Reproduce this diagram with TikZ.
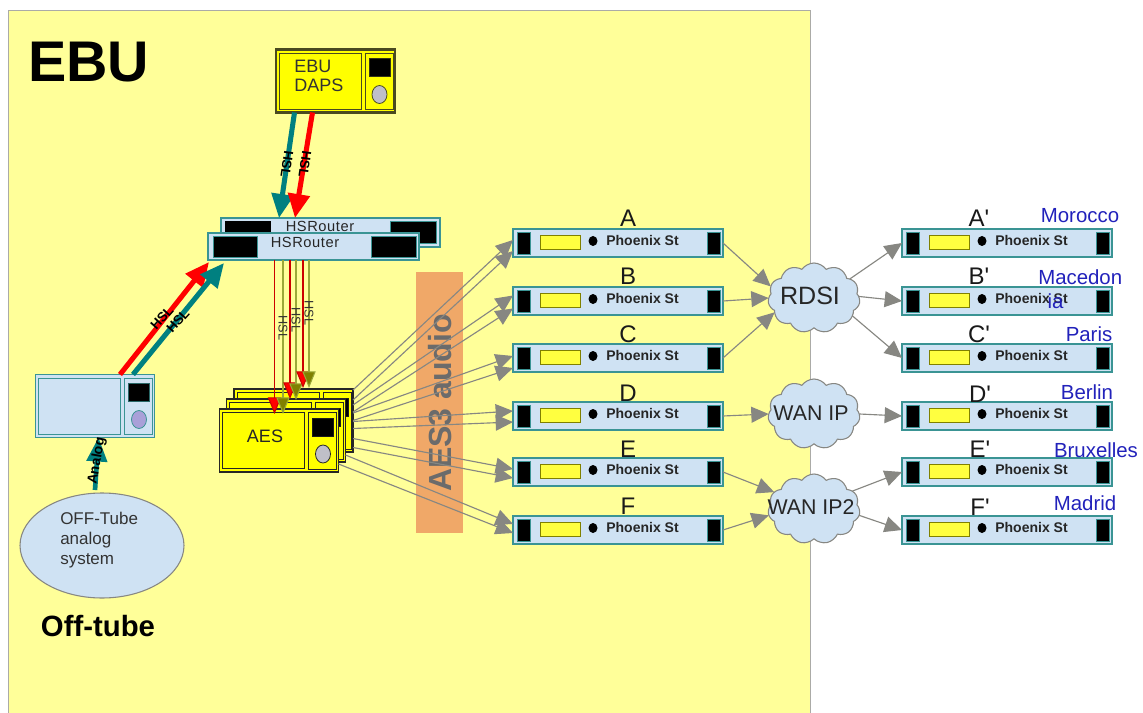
\documentclass[tikz,border=0pt]{standalone}
\usepackage{fontspec}
\setmainfont{Liberation Sans}
\newfontfamily\plainf{Liberation Sans}
\usetikzlibrary{arrows.meta,shapes.geometric,shapes.symbols}
\definecolor{panelY}{HTML}{FFFF99}
\definecolor{lblue}{HTML}{CFE2F3}
\definecolor{tealc}{HTML}{008080}
\definecolor{boxedge}{HTML}{3A9494}
\definecolor{devY}{HTML}{FFFF00}
\definecolor{blueT}{HTML}{2222BB}
\definecolor{barC}{HTML}{F0A868}
\definecolor{greyA}{HTML}{878782}
\definecolor{olive}{HTML}{808000}
\definecolor{olivel}{HTML}{9AA838}
\definecolor{dapsedge}{HTML}{4A4A20}
\definecolor{aesedge}{HTML}{262626}
\definecolor{knobg}{HTML}{BFBFC8}
\definecolor{knobv}{HTML}{A9A0D8}
\tikzset{
  pxbox/.style 2 args={rectangle,inner sep=0pt,outer sep=0pt,anchor=north west,minimum width=#1*0.75pt,minimum height=#2*0.75pt},
  phoenixbox/.style={pxbox={210}{28},draw=boxedge,line width=0.8pt,fill=lblue},
  garrow/.style={draw=greyA,line width=0.85pt,-{Triangle[length=13pt,width=12pt,fill=greyA]}},
  fatarrow/.style={line width=3.8pt,-{Triangle[length=18pt,width=16pt]}},
  redthin/.style={line width=0.8pt,draw=red!80!black,-{Triangle[length=12.5pt,width=10pt,fill=red]}},
  olivethin/.style={line width=0.8pt,draw=olivel,-{Triangle[length=12.5pt,width=10pt,fill=olive]}},
  cloudnode/.style={cloud,cloud puffs=11,cloud puff arc=110,aspect=1.3,draw=greyA,line width=0.8pt,fill=lblue,inner sep=0pt,outer sep=0pt,minimum width=92*0.75pt,minimum height=70*0.75pt},
  letterlab/.style={font=\plainf\fontsize{18pt}{20pt}\selectfont,inner sep=0pt,text=black!90},
  citylab/.style={font=\fontsize{15.3pt}{18pt}\selectfont,inner sep=0pt,text=blueT},
  hslfat/.style={font=\fontsize{10pt}{11pt}\selectfont\bfseries,inner sep=0pt,text=black},
  hslthin/.style={font=\fontsize{9.5pt}{10pt}\selectfont,inner sep=0pt,text=black!80},
  routerlab/.style={font=\fontsize{11pt}{12pt}\selectfont\addfontfeature{LetterSpace=4},inner sep=0pt,text=black!85},
  cloudlab/.style={inner sep=0pt,text=black!85}
}
\newcommand{\phoenix}[3]{%
  \node[phoenixbox] (#1) at (#2,#3) {};
  \begin{scope}[shift={(#2,#3)}]
    \fill[black,draw=boxedge,line width=0.4pt] (4,3) rectangle (17,25);
    \fill[black,draw=boxedge,line width=0.4pt] (194,3) rectangle (207,25);
    \filldraw[fill=devY!75!white,draw=olive,line width=0.5pt] (27,6) rectangle (67,20);
    \fill[black] (80,12) ellipse [x radius=4.5,y radius=5];
    \node[font=\fontsize{10.5pt}{12pt}\selectfont\bfseries,inner sep=0pt,text=black!85] (#1t) at (129.5,11) {Phoenix St};
  \end{scope}}
\newcommand{\device}[6]{% name x y fill stroke knob
  \node[pxbox={119}{63},draw=#5,line width=0.8pt,fill=#4] (#1) at (#2,#3) {};
  \begin{scope}[shift={(#2,#3)}]
    \draw[#5,line width=0.7pt,fill=#4] (3,3.5) rectangle (85,59.5);
    \draw[#5,line width=0.7pt,fill=#4] (89,3.5) rectangle (117,60);
    \filldraw[fill=black,draw=#5!70!black,line width=0.5pt] (93,9) rectangle (114,27);
    \filldraw[fill=#6,draw=#5,line width=0.6pt] (103.5,45) ellipse [x radius=7.5,y radius=9];
  \end{scope}}
\newcommand{\aesline}[4]{\draw[garrow] ([yshift=-#2*0.75pt]#1.east) -- ([yshift=-#4*0.75pt]#3.west);}
\begin{document}
\begin{tikzpicture}[x=0.75pt,y=-0.75pt]
\useasboundingbox (0,0) rectangle (1143,713);
\fill[white] (0,0) rectangle (1143,713);
\filldraw[fill=panelY,draw=greyA!70,line width=0.6pt] (8,10) rectangle (810,713);
\node[anchor=west,inner sep=0pt,font=\fontsize{43pt}{46pt}\selectfont\bfseries] (ebu) at (28,62) {EBU};

% AES3 bar
\node[pxbox={47}{261},fill=barC] (bar) at (416,272) {};
\node[rotate=90,inner sep=0pt,font=\fontsize{24pt}{26pt}\selectfont\bfseries,text=black!58] (bart) at (440,403) {AES3 audio};

% Devices
\device{daps}{276}{49.5}{devY}{dapsedge}{knobg}
\draw[dapsedge,line width=1.6pt] (daps.south west) rectangle (daps.north east);
\node[anchor=north west,align=left,inner sep=0pt,font=\fontsize{13.5pt}{14.5pt}\selectfont,text=black!80] (dapst) at (294,60) {EBU\\DAPS};

\device{aesc}{234}{389}{devY}{aesedge}{knobg}
\device{aesb}{226.5}{399}{devY}{aesedge}{knobg}
\device{aesa}{219.5}{409}{devY}{aesedge}{knobg}
\node[inner sep=0pt,font=\fontsize{13.5pt}{15pt}\selectfont,text=black!85] (aest) at (265,436) {AES};

\device{off}{35.5}{374.5}{lblue}{boxedge}{knobv}

% Routers
\node[pxbox={219}{29},draw=boxedge,line width=0.8pt,fill=lblue] (rb) at (221,218) {};
\fill[black] (225,221) rectangle (271,247);
\fill[black,draw=boxedge,line width=0.4pt] (390,221) rectangle (436,243);
\node[routerlab] (rbt) at (320,226) {HSRouter};
\node[pxbox={211}{27},draw=boxedge,line width=0.8pt,fill=lblue] (rf) at (208,233) {};
\fill[black,draw=boxedge,line width=0.4pt] (213,236) rectangle (257,257);
\fill[black,draw=boxedge,line width=0.4pt] (371,236) rectangle (416,257);
\node[routerlab] (rft) at (305,242) {HSRouter};

% Phoenix boxes
\phoenix{A}{513}{229}
\phoenix{B}{513}{287}
\phoenix{C}{513}{344}
\phoenix{D}{513}{402}
\phoenix{E}{513}{458}
\phoenix{F}{513}{516}
\phoenix{Ap}{902}{229}
\phoenix{Bp}{902}{287}
\phoenix{Cp}{902}{344}
\phoenix{Dp}{902}{402}
\phoenix{Ep}{902}{458}
\phoenix{Fp}{902}{516}

% letters
\node[letterlab] (la) at (628,218) {A};
\node[letterlab] (lb) at (628,276) {B};
\node[letterlab] (lc) at (628,334) {C};
\node[letterlab] (ld) at (628,393) {D};
\node[letterlab] (le) at (628,449) {E};
\node[letterlab] (lf) at (628,506) {F};
\node[letterlab] (lap) at (979,218) {A'};
\node[letterlab] (lbp) at (979,276) {B'};
\node[letterlab] (lcp) at (979,334) {C'};
\node[letterlab] (ldp) at (980,394) {D'};
\node[letterlab] (lep) at (980,449) {E'};
\node[letterlab] (lfp) at (980,507) {F'};

% cities
\node[citylab] (c1) at (1080,216) {Morocco};
\node[citylab,anchor=north west,align=left] (c2) at (1038,269) {Macedon\\\hspace*{7pt}ia};
\node[citylab] (c3) at (1089,334) {Paris};
\node[citylab] (c4) at (1087,392) {Berlin};
\node[citylab] (c5) at (1096,450) {Bruxelles};
\node[citylab] (c6) at (1085,503) {Madrid};

% Clouds
\node[cloudnode] (rdsi) at (814,298) {};
\node[cloudnode] (wan) at (814,414) {};
\node[cloudnode] (wan2) at (814,509) {};
\node[cloudlab,font=\fontsize{18.8pt}{20pt}\selectfont] (rdsit) at (810,296) {RDSI};
\node[cloudlab,font=\fontsize{16pt}{18pt}\selectfont] (want) at (811,413) {WAN IP};
\node[cloudlab,font=\fontsize{16pt}{18pt}\selectfont] (wan2t) at (811,507) {WAN IP2};

% Cloud connectors
\draw[garrow] (A.east) -- (rdsi.165);
\draw[garrow] (B.east) -- (rdsi.180);
\draw[garrow] (C.east) -- (rdsi.200);
\draw[garrow] (D.east) -- (wan.180);
\draw[garrow] (E.east) -- (wan2.157);
\draw[garrow] (F.east) -- (wan2.188);
\draw[garrow] (rdsi.28) -- (Ap.west);
\draw[garrow] (rdsi.2) -- (Bp.west);
\draw[garrow] (rdsi.-25) -- (Cp.west);
\draw[garrow] (wan.0) -- (Dp.west);
\draw[garrow] (wan2.25) -- (Ep.west);
\draw[garrow] (wan2.-8) -- (Fp.west);

% AES to Phoenix (offsets in px, positive = downward)
\aesline{aesc}{(-30.5)}{A}{(-3)}
\aesline{aesc}{(-20.5)}{A}{8}
\aesline{aesc}{(-15.5)}{B}{(-5.5)}
\aesline{aesc}{(-8.5)}{B}{7.5}
\aesline{aesc}{(-7.5)}{C}{(-2)}
\aesline{aesc}{0}{C}{10}
\aesline{aesc}{1}{D}{(-5)}
\aesline{aesc}{8}{D}{6}
\aesline{aesc}{18}{E}{(-3)}
\aesline{aesc}{27}{E}{6}
\aesline{aesb}{24.5}{F}{(-6)}
\aesline{aesa}{23.5}{F}{3}

% Router to AES
\coordinate (t1) at (274.5,414);
\coordinate (t2) at (283,414);
\coordinate (t3) at (290,399);
\coordinate (t4) at (296,400);
\coordinate (t5) at (303,388);
\coordinate (t6) at (309,388);
\draw[redthin] (t1 |- rf.south) -- (t1);
\draw[olivethin] (t2 |- rf.south) -- (t2);
\draw[redthin] (t3 |- rf.south) -- (t3);
\draw[olivethin] (t4 |- rf.south) -- (t4);
\draw[redthin] (t5 |- rf.south) -- (t5);
\draw[olivethin] (t6 |- rf.south) -- (t6);
\node[hslthin,rotate=-90] (h1) at (283,328) {HSL};
\node[hslthin,rotate=-90] (h2) at (296,320) {HSL};
\node[hslthin,rotate=-90] (h3) at (309,313) {HSL};

% Fat arrows
\draw[fatarrow,tealc] ([xshift=-41*0.75pt]daps.south) -- ([xshift=-51.5*0.75pt]rb.north);
\draw[fatarrow,red] ([xshift=-23*0.75pt]daps.south) -- ([xshift=-35.5*0.75pt]rb.north);
\node[hslfat,rotate=-98] (h4) at (287,164) {HSL};
\node[hslfat,rotate=-98] (h5) at (305,164) {HSL};
\draw[fatarrow,red] ([xshift=25*0.75pt]off.north) -- ([xshift=1*0.75pt,yshift=-2*0.75pt]rf.south west);
\draw[fatarrow,tealc] ([xshift=38*0.75pt]off.north) -- ([xshift=16*0.75pt,yshift=-3*0.75pt]rf.south west);
\node[hslfat,rotate=48] (h6) at (162,318) {HSL};
\node[hslfat,rotate=48] (h7) at (178,321) {HSL};

% Off-tube
\node[ellipse,draw=greyA,line width=0.8pt,fill=lblue,inner sep=0pt,outer sep=0pt,minimum width=164*0.75pt,minimum height=105*0.75pt] (ell) at (102,545.5) {};
\node[anchor=north west,align=left,inner sep=0pt,font=\fontsize{12.75pt}{15pt}\selectfont,text=black!80] (ellt) at (60,512) {OFF-Tube\\analog\\system};
\draw[line width=3.5pt,tealc,-{Triangle[length=18pt,width=15pt]}] ([xshift=-7*0.75pt,yshift=3*0.75pt]ell.north) -- ([xshift=3.5*0.75pt]off.south);
\node[font=\fontsize{10.5pt}{11pt}\selectfont\bfseries,inner sep=0pt,rotate=80] (anl) at (97,461) {Analog};
\node[font=\fontsize{22pt}{24pt}\selectfont\bfseries,inner sep=0pt] (offt) at (98,626) {Off-tube};
\end{tikzpicture}
\end{document}
